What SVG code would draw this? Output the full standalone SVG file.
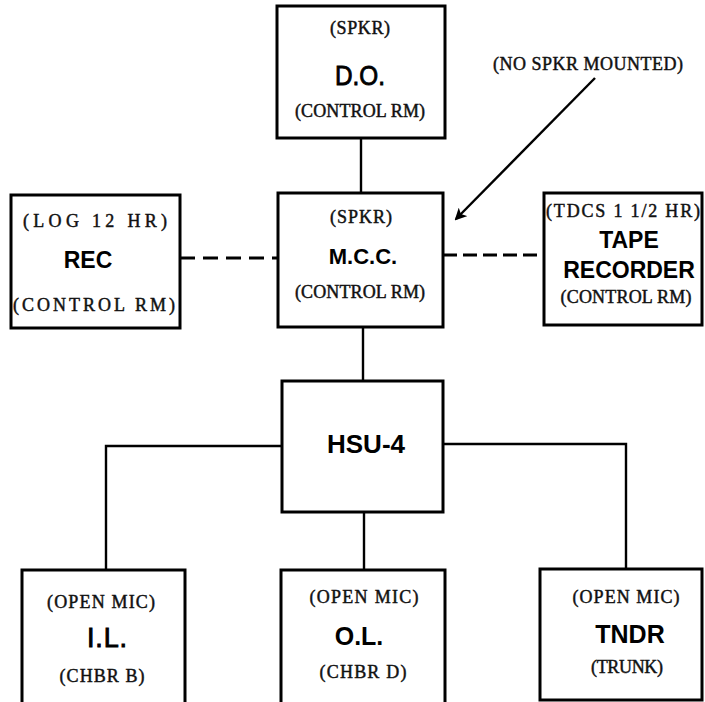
<svg xmlns="http://www.w3.org/2000/svg" width="705" height="702" viewBox="0 0 705 702">
<style>
.box{fill:#fff;stroke:#000;stroke-width:3}
.ln{fill:none;stroke:#000;stroke-width:2.4}
.dash{fill:none;stroke:#000;stroke-width:3}
.tw{font-family:"Liberation Serif","Times New Roman",serif;font-size:18px;fill:#111;stroke:#111;stroke-width:0.45;text-anchor:middle}
.sans{font-family:"Liberation Sans",Arial,sans-serif;fill:#000;text-anchor:middle}
.b{font-weight:bold}
.m{stroke:#000;stroke-width:0.9}
</style>
<defs>
<marker id="ah" markerWidth="12" markerHeight="12" refX="10" refY="6" orient="auto" markerUnits="userSpaceOnUse" viewBox="0 0 12 12">
<path d="M0,0 L12,6 L0,12 L3,6 z" fill="#000"/>
</marker>
</defs>
<rect width="705" height="702" fill="#fff"/>
<g id="connectors">
<line class="ln" x1="361" y1="138" x2="361" y2="193"/>
<line class="ln" x1="363" y1="327" x2="363" y2="381"/>
<polyline class="ln" points="282,446 106,446 106,570"/>
<polyline class="ln" points="443,444 626,444 626,569"/>
<line class="ln" x1="364" y1="512" x2="364" y2="570"/>
<line class="dash" x1="180" y1="258" x2="278" y2="258" stroke-dasharray="15 8"/>
<line class="dash" x1="443" y1="255" x2="544" y2="255" stroke-dasharray="14 6"/>
<line class="ln" x1="595" y1="78" x2="456" y2="219" marker-end="url(#ah)"/>
</g>
<g id="note">
<text class="tw" x="588" y="70" textLength="190">(NO SPKR MOUNTED)</text>
</g>
<g id="do">
<rect class="box" x="277" y="6" width="168" height="132"/>
<text class="tw" x="360" y="34" textLength="60">(SPKR)</text>
<text class="sans m" x="360" y="85" font-size="28" textLength="50" lengthAdjust="spacingAndGlyphs">D.O.</text>
<text class="tw" x="360" y="117" textLength="130">(CONTROL RM)</text>
</g>
<g id="rec">
<rect class="box" x="11" y="195" width="169" height="133"/>
<text class="tw" x="95" y="227" textLength="144">(LOG 12 HR)</text>
<text class="sans b" x="88" y="268" font-size="23">REC</text>
<text class="tw" x="94" y="311" textLength="162">(CONTROL RM)</text>
</g>
<g id="mcc">
<rect class="box" x="278" y="193" width="165" height="134"/>
<text class="tw" x="361" y="223" textLength="62">(SPKR)</text>
<text class="sans b" x="363" y="264" font-size="22">M.C.C.</text>
<text class="tw" x="360" y="298" textLength="130">(CONTROL RM)</text>
</g>
<g id="tape">
<rect class="box" x="544" y="193" width="158" height="132"/>
<text class="tw" x="623" y="217" textLength="154">(TDCS 1 1/2 HR)</text>
<text class="sans b" x="629" y="248" font-size="23">TAPE</text>
<text class="sans b" x="629" y="278" font-size="23">RECORDER</text>
<text class="tw" x="626" y="303" textLength="131">(CONTROL RM)</text>
</g>
<g id="hsu">
<rect class="box" x="282" y="381" width="161" height="131"/>
<text class="sans b" x="366" y="453" font-size="26">HSU-4</text>
</g>
<g id="il">
<rect class="box" x="22" y="570" width="163" height="140"/>
<text class="tw" x="101" y="608" textLength="108">(OPEN MIC)</text>
<text class="sans m" x="107" y="647" font-size="27" textLength="40">I.L.</text>
<text class="tw" x="102" y="682" textLength="85">(CHBR B)</text>
</g>
<g id="ol">
<rect class="box" x="281" y="570" width="164" height="140"/>
<text class="tw" x="364" y="603" textLength="109">(OPEN MIC)</text>
<text class="sans b" x="359" y="645" font-size="25">O.L.</text>
<text class="tw" x="363" y="678" textLength="87">(CHBR D)</text>
</g>
<g id="tndr">
<rect class="box" x="540" y="569" width="162" height="131"/>
<text class="tw" x="626" y="603" textLength="107">(OPEN MIC)</text>
<text class="sans b" x="630" y="643" font-size="25">TNDR</text>
<text class="tw" x="627" y="673" textLength="72">(TRUNK)</text>
</g>
</svg>
